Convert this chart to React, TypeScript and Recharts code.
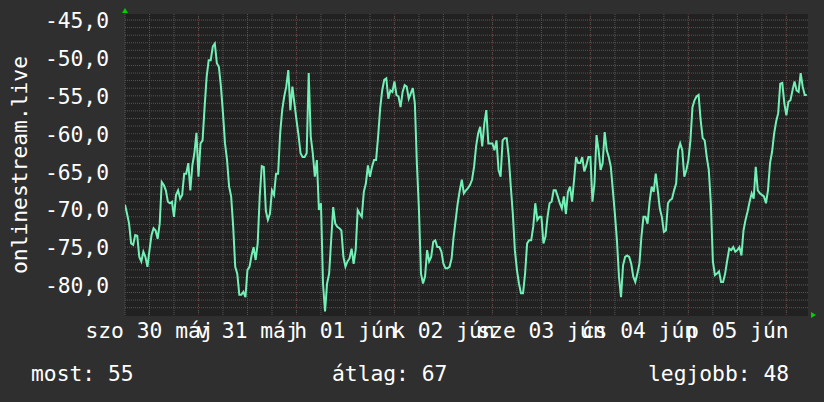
import React from 'react';
import { LineChart, Line, XAxis, YAxis, CartesianGrid } from 'recharts';

// half-hour samples, hour 0 = 06:00 on 30 May
const STEP_HOURS = 0.5;
const day1 = [-69.4,-70.6,-71.9,-74.5,-74.7,-73.4,-73.5,-76.3,-76.9,-75.6,-76.3,-77.6,-75.4,-73.4,-72.5,-72.8,-73.9,-71.9,-66.4,-66.8,-67.5,-69.0,-69.2,-69.0,-71.0,-68.1,-67.5,-68.6,-68.1,-65.3,-65.3,-63.9,-67.5,-64.2,-62.6,-59.9,-65.7,-61.3,-60.9,-56.5,-52.5,-50.3,-50.3,-48.5,-48.1,-50.7,-51.2,-53.8];
const day2 = [-57.3,-61.3,-63.5,-67.0,-68.3,-72.3,-77.6,-78.5,-81.3,-81.3,-80.9,-81.6,-78.0,-77.6,-76.1,-75.0,-76.7,-74.5,-68.3,-64.3,-64.4,-70.2,-71.4,-70.6,-67.5,-68.1,-65.3,-65.3,-60.0,-56.9,-55.1,-53.8,-51.6,-56.9,-53.8,-56.0,-58.2,-60.2,-62.6,-63.1,-63.1,-62.6,-52.0,-60.4,-62.6,-65.7,-63.5,-70.1];
const day3 = [-69.2,-79.8,-83.5,-79.8,-78.5,-74.1,-69.7,-71.9,-72.3,-72.5,-72.8,-76.3,-77.6,-76.9,-76.5,-75.2,-77.2,-75.4,-70.1,-70.6,-71.0,-67.7,-66.6,-64.2,-65.7,-64.4,-63.5,-63.5,-60.4,-56.7,-54.3,-52.9,-52.7,-55.4,-54.3,-54.5,-53.1,-54.9,-55.1,-56.5,-54.5,-53.6,-53.8,-55.4,-54.7,-54.0,-56.0,-64.0];
const day4 = [-70.0,-78.5,-79.8,-78.9,-75.4,-76.9,-76.3,-74.3,-74.1,-75.0,-75.0,-75.6,-77.2,-77.8,-77.8,-77.6,-76.5,-73.6,-71.4,-69.2,-67.5,-66.1,-67.9,-67.5,-67.2,-66.8,-66.1,-64.4,-61.7,-60.0,-59.1,-61.7,-58.7,-56.9,-61.3,-61.3,-61.3,-62.2,-60.9,-64.8,-65.7,-60.9,-60.6,-60.6,-63.1,-67.0,-70.6,-75.4];
const day5 = [-78.0,-79.8,-81.1,-81.1,-78.5,-74.5,-74.1,-74.1,-72.3,-69.2,-71.4,-71.0,-71.0,-74.5,-73.6,-71.0,-69.2,-69.0,-67.5,-67.5,-68.3,-69.2,-69.9,-68.3,-70.6,-67.7,-67.0,-69.0,-66.1,-63.1,-63.9,-63.9,-63.1,-65.0,-64.2,-63.1,-63.1,-69.0,-66.6,-60.2,-62.2,-64.8,-63.9,-59.8,-62.2,-63.1,-64.4,-67.5];
const day6 = [-70.6,-74.1,-78.9,-81.6,-77.4,-76.3,-76.1,-76.3,-77.2,-78.9,-79.6,-78.5,-77.2,-73.6,-71.0,-71.0,-71.9,-69.0,-67.0,-67.7,-65.3,-67.5,-69.9,-71.0,-73.0,-72.8,-69.2,-68.8,-68.6,-67.5,-66.6,-62.2,-61.3,-62.2,-65.7,-64.8,-63.5,-60.9,-56.5,-55.6,-55.1,-54.9,-58.2,-60.6,-60.9,-63.1,-64.8,-69.2];
const day7 = [-76.9,-78.7,-78.5,-78.2,-79.6,-79.6,-78.5,-76.8,-75.2,-75.4,-75.0,-75.6,-75.4,-75.0,-76.1,-72.8,-71.4,-70.3,-69.0,-67.9,-68.6,-64.4,-67.5,-67.9,-68.1,-68.3,-69.2,-67.5,-63.9,-62.4,-60.0,-58.4,-57.3,-53.4,-53.3,-56.0,-57.6,-55.8,-55.6,-54.3,-53.1,-54.3,-54.5,-52.0,-53.8,-54.9,-54.9];

const xLabelHours = [6, 30, 54, 78, 102, 126, 150];
const xLabels = ['szo 30 máj', 'v 31 máj', 'h 01 jún', 'k 02 jún', 'sze 03 jún', 'cs 04 jún', 'p 05 jún'];
const midnightHours = [18, 42, 66, 90, 114, 138, 162];
const sixHourMarks = [0, 6, 12, 18, 24, 30, 36, 42, 48, 54, 60, 66, 72, 78, 84, 90, 96, 102, 108, 114, 120, 126, 132, 138, 144, 150, 156, 162];
const yTicks = [-80, -75, -70, -65, -60, -55, -50, -45];
const yMinor = [-83, -82, -81, -80, -79, -78, -77, -76, -75, -74, -73, -72, -71, -70, -69, -68, -67, -66, -65, -64, -63, -62, -61, -60, -59, -58, -57, -56, -55, -54, -53, -52, -51, -50, -49, -48, -47, -46, -45];
const xDomain = [0, 167.3];
const yDomain = [-84.1, -44.2];
const yTitle = 'onlinestream.live';
const summary = [
  { label: 'most', value: 55 },
  { label: 'átlag', value: 67 },
  { label: 'legjobb', value: 48 },
];

const signal = [...day1, ...day2, ...day3, ...day4, ...day5, ...day6, ...day7];
const data = signal.map((v, i) => ({ h: i * STEP_HOURS, v }));

const FONT = '"DejaVu Sans Mono", monospace';
const FS = 21.3;
const TXT = '#ffffff';

const fmt = (v: number) => v.toFixed(1).replace('.', ',');

const YTick = (props: any) => {
  const { x, y, payload } = props;
  return (
    <text x={x} y={y} dy={8.2} textAnchor="end" fill={TXT} fontSize={FS} fontFamily={FONT}>
      {fmt(payload.value)}
    </text>
  );
};

const XTick = (props: any) => {
  const { x, y, payload } = props;
  const idx = xLabelHours.indexOf(payload.value);
  return (
    <text x={x} y={y} dy={22.3} textAnchor="middle" fill={TXT} fontSize={FS} fontFamily={FONT}>
      {idx >= 0 ? xLabels[idx] : ''}
    </text>
  );
};

export default function App() {
  return (
    <div style={{ position: 'fixed', left: 0, top: 0, width: 824, height: 402, background: '#2f2f2f', overflow: 'hidden' }}>
      <LineChart width={824} height={402} data={data} margin={{ top: 14, right: 16, left: 0, bottom: 56 }}>
        <CartesianGrid
          xAxisId="t"
          yAxisId="v"
          fill="#212121"
          stroke="#555555"
          strokeDasharray="1 1"
          horizontalValues={yMinor}
          verticalValues={sixHourMarks}
        />
        <CartesianGrid
          xAxisId="t"
          yAxisId="v"
          stroke="#6e3232"
          strokeDasharray="1 1"
          vertical={false}
          horizontalValues={yTicks}
        />
        <CartesianGrid
          xAxisId="t"
          yAxisId="v"
          stroke="#5a2c2c"
          strokeDasharray="1 2"
          horizontal={false}
          verticalValues={midnightHours}
        />
        <XAxis
          xAxisId="t"
          dataKey="h"
          type="number"
          domain={xDomain}
          allowDataOverflow
          ticks={xLabelHours}
          interval={0}
          axisLine={false}
          tickLine={false}
          tickSize={0}
          tickMargin={0}
          height={30}
          tick={<XTick />}
        />
        <YAxis
          yAxisId="v"
          type="number"
          domain={yDomain}
          allowDataOverflow
          ticks={yTicks}
          interval={0}
          axisLine={false}
          tickLine={false}
          tickSize={0}
          tickMargin={16}
          width={125}
          tick={<YTick />}
        />
        <Line
          xAxisId="t"
          yAxisId="v"
          dataKey="v"
          type="linear"
          stroke="#72f0b6"
          strokeWidth={2}
          dot={false}
          isAnimationActive={false}
        />
      </LineChart>
      <svg width={824} height={402} style={{ position: 'absolute', left: 0, top: 0, pointerEvents: 'none' }}>
        <polygon points="122,13 128,13 125,8" fill="#00d000" />
        <polygon points="811,312 811,318 816,315" fill="#00d000" />
        <text x={27} y={165} transform="rotate(-90 27 165)" textAnchor="middle" fill={TXT} fontSize={FS} fontFamily={FONT}>
          {yTitle}
        </text>
        <text x={31} y={380.6} fill={TXT} fontSize={FS} fontFamily={FONT}>{`${summary[0].label}: ${summary[0].value}`}</text>
        <text x={332} y={380.6} fill={TXT} fontSize={FS} fontFamily={FONT}>{`${summary[1].label}: ${summary[1].value}`}</text>
        <text x={648} y={380.6} fill={TXT} fontSize={FS} fontFamily={FONT}>{`${summary[2].label}: ${summary[2].value}`}</text>
      </svg>
    </div>
  );
}
